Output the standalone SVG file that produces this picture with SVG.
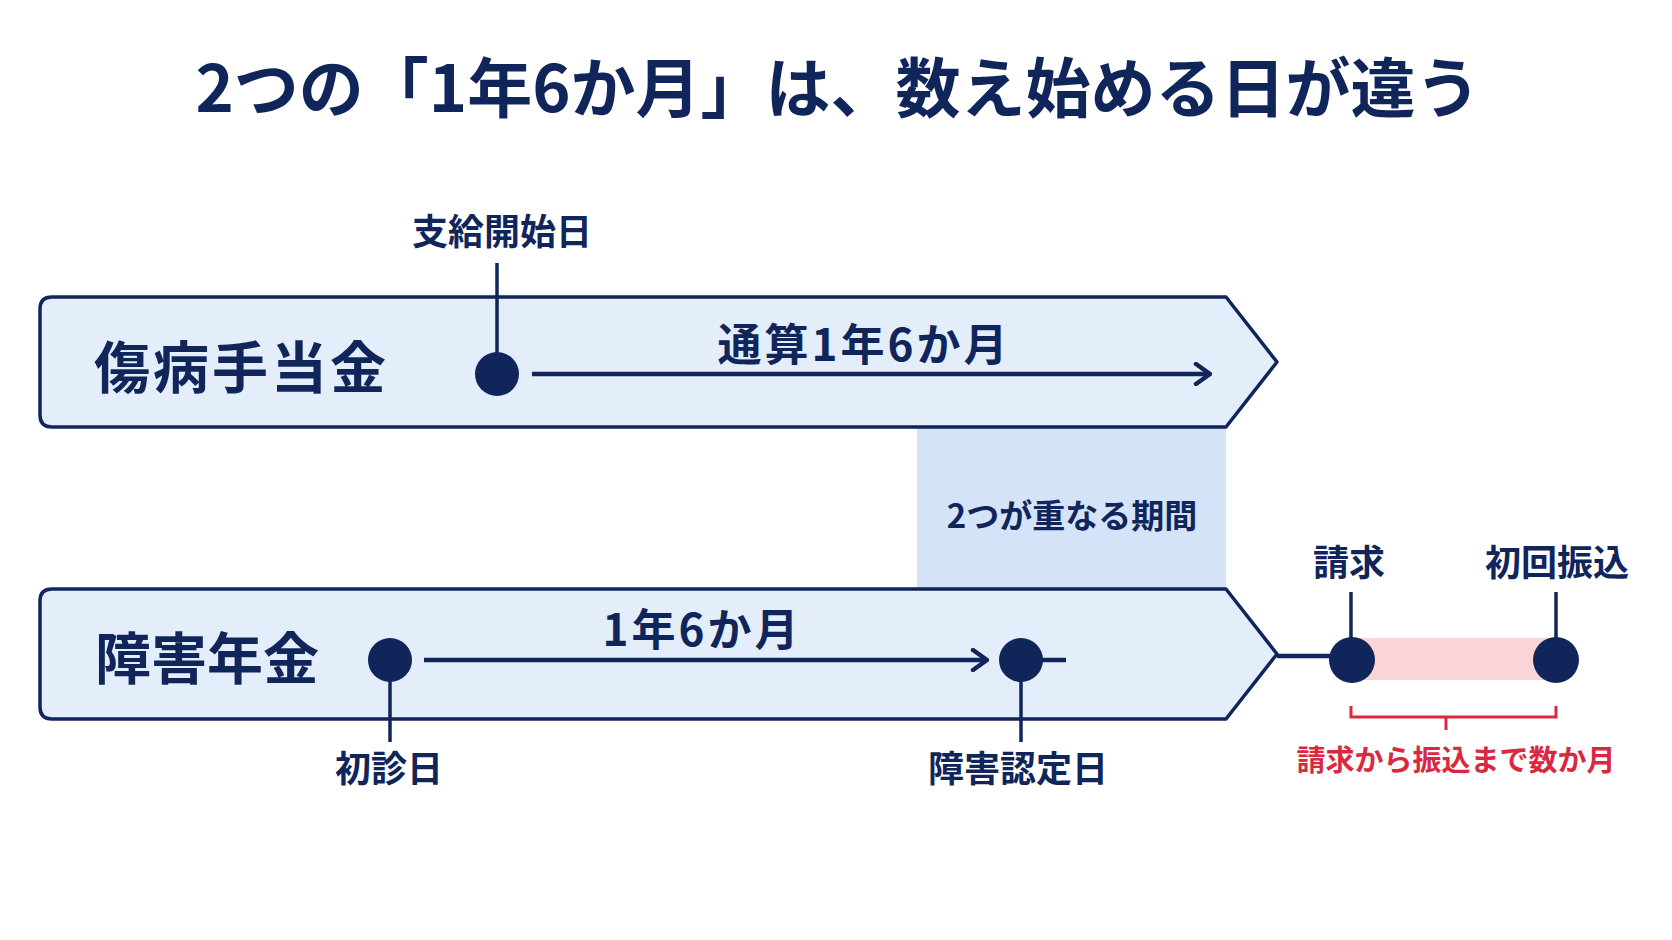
<svg xmlns="http://www.w3.org/2000/svg" width="1672" height="940" viewBox="0 0 1672 940">
<defs>
<style>
text{font-family:"Noto Sans CJK JP","Noto Sans",sans-serif;font-weight:700;fill:#10265a}
.box{fill:#e4eefb;stroke:#10265a;stroke-width:3.5;stroke-linejoin:round}
.ln{stroke:#10265a;stroke-width:4.5;fill:none}
.vl{stroke:#10265a;stroke-width:3.5;fill:none}
.dot{fill:#10265a}
.red{stroke:#d92840;stroke-width:3;fill:none}
.mid{text-anchor:middle}
</style>
<marker id="arr" viewBox="0 0 20 24" refX="18" refY="12" markerWidth="20" markerHeight="24" markerUnits="userSpaceOnUse" orient="auto">
<path d="M4 2 L18 12 L4 22" fill="none" stroke="#10265a" stroke-width="4.5" stroke-linecap="round" stroke-linejoin="round"/>
</marker>
</defs>
<rect width="1672" height="940" fill="#ffffff"/>
<g id="title">
<text class="mid" x="838" y="112" font-size="65">2つの「1年6か月」は、数え始める日が違う</text>
</g>
<g id="overlap">
<rect x="917" y="427" width="309" height="162" fill="#d4e3f8"/>
<text class="mid" x="1072" y="528" font-size="33">2つが重なる期間</text>
</g>
<g id="shobyo">
<path class="box" d="M52 297 H1226 L1277 362 L1226 427 H52 Q40 427 40 415 V309 Q40 297 52 297 Z"/>
<text x="94" y="388" font-size="56" letter-spacing="3">傷病手当金</text>
</g>
<g id="shogai">
<path class="box" d="M52 589 H1226 L1277 654 L1226 719 H52 Q40 719 40 707 V601 Q40 589 52 589 Z"/>
<text x="95" y="679" font-size="56">障害年金</text>
</g>
<g id="connectors">
<line class="vl" x1="497" y1="263" x2="497" y2="374"/>
<line class="ln" x1="532" y1="374" x2="1210" y2="374" marker-end="url(#arr)"/>
<line class="ln" x1="424" y1="660" x2="987" y2="660" marker-end="url(#arr)"/>
<line class="vl" x1="390" y1="660" x2="390" y2="742"/>
<line class="ln" x1="1021" y1="660" x2="1066" y2="660"/>
<line class="vl" x1="1021" y1="660" x2="1021" y2="742"/>
<line class="ln" x1="1277" y1="656" x2="1352" y2="656"/>
<line class="vl" x1="1351" y1="592" x2="1351" y2="659"/>
<line class="vl" x1="1556" y1="592" x2="1556" y2="659"/>
</g>
<g id="claim-period">
<rect x="1352" y="638" width="204" height="42" fill="#fbd4d8"/>
<path class="red" d="M1351 706 V717 H1556 V706 M1446 717 V730"/>
<text class="mid" x="1456" y="771" font-size="29" style="fill:#d92840">請求から振込まで数か月</text>
</g>
<g id="ev-shikyu">
<circle class="dot" cx="497" cy="374" r="22"/>
<text class="mid" x="502" y="245" font-size="36">支給開始日</text>
</g>
<g id="label-tsusan">
<text class="mid" x="864" y="361" font-size="44" letter-spacing="3">通算1年6か月</text>
</g>
<g id="label-1y6m">
<text class="mid" x="702" y="646" font-size="44" letter-spacing="3">1年6か月</text>
</g>
<g id="ev-shoshin">
<circle class="dot" cx="390" cy="660" r="22"/>
<text class="mid" x="389" y="782" font-size="36">初診日</text>
</g>
<g id="ev-nintei">
<circle class="dot" cx="1021" cy="660" r="22"/>
<text class="mid" x="1018" y="782" font-size="36">障害認定日</text>
</g>
<g id="ev-seikyu">
<circle class="dot" cx="1352" cy="660" r="23"/>
<text class="mid" x="1349" y="576" font-size="36">請求</text>
</g>
<g id="ev-furikomi">
<circle class="dot" cx="1556" cy="660" r="23"/>
<text class="mid" x="1557" y="576" font-size="36">初回振込</text>
</g>
</svg>
